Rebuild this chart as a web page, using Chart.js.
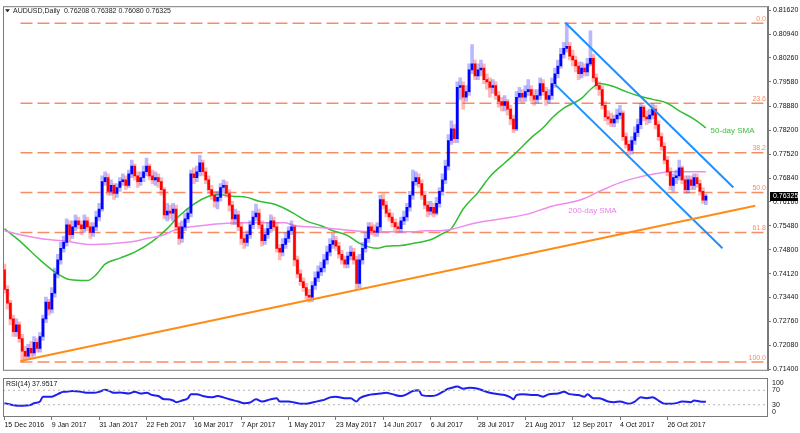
<!DOCTYPE html>
<html lang="en">
<head>
<meta charset="UTF-8">
<title>AUDUSD Daily</title>
<style>
  body { margin: 0; background: #fff; }
  #wrap { position: relative; width: 800px; height: 433px; }
  #priceChart { position: absolute; left: 0; top: 0; }
  #rsiChart { position: absolute; left: 0; top: 375px; }
</style>
<script src="https://cdn.jsdelivr.net/npm/chart.js"></script>
</head>
<body>
<div id="wrap">
  <canvas id="priceChart" width="800" height="377"></canvas>
  <canvas id="rsiChart" width="800" height="58"></canvas>
</div>
<script>
// ---- data ----
const dateLabels = ['15 Dec 2016', '9 Jan 2017', '31 Jan 2017', '22 Feb 2017', '16 Mar 2017', '7 Apr 2017', '1 May 2017',
  '23 May 2017', '14 Jun 2017', '6 Jul 2017', '28 Jul 2017', '21 Aug 2017', '12 Sep 2017', '4 Oct 2017', '26 Oct 2017'];
const dateLabelBars = [0, 16, 32, 48, 64, 80, 96, 112, 128, 144, 160, 176, 192, 208, 224];

const priceTicks = [0.71400, 0.72080, 0.72760, 0.73440, 0.74120, 0.74800, 0.75480, 0.76160,
  0.76840, 0.77520, 0.78200, 0.78880, 0.79580, 0.80260, 0.80940, 0.81620];

// daily candles (open of a bar = close of the bar before)
const firstOpen = 0.7423;
const closes = [
  0.7367, 0.7328, 0.7283, 0.7247, 0.7266, 0.7227, 0.7191, 0.7177, 0.7199, 0.7186,
  0.7216, 0.7199, 0.7233, 0.7283, 0.7331, 0.7311, 0.7356, 0.7411, 0.7451, 0.7484,
  0.7501, 0.7551, 0.7523, 0.7545, 0.7562, 0.7551, 0.7540, 0.7562, 0.7545, 0.7529,
  0.7545, 0.7573, 0.7596, 0.7674, 0.7685, 0.7646, 0.7663, 0.7640, 0.7657, 0.7674,
  0.7679, 0.7663, 0.7696, 0.7718, 0.7690, 0.7674, 0.7685, 0.7702, 0.7718, 0.7690,
  0.7679, 0.7685, 0.7674, 0.7651, 0.7579, 0.7590, 0.7584, 0.7596, 0.7545, 0.7512,
  0.7545, 0.7568, 0.7584, 0.7696, 0.7685, 0.7702, 0.7727, 0.7702, 0.7679, 0.7651,
  0.7635, 0.7618, 0.7629, 0.7657, 0.7663, 0.7640, 0.7607, 0.7568, 0.7579, 0.7545,
  0.7512, 0.7501, 0.7523, 0.7551, 0.7573, 0.7584, 0.7551, 0.7506, 0.7523, 0.7540,
  0.7562, 0.7545, 0.7484, 0.7473, 0.7495, 0.7512, 0.7534, 0.7545, 0.7451, 0.7411,
  0.7389, 0.7372, 0.7350, 0.7345, 0.7378, 0.7400, 0.7417, 0.7428, 0.7451, 0.7473,
  0.7495, 0.7506, 0.7490, 0.7467, 0.7451, 0.7439, 0.7462, 0.7473, 0.7451, 0.7384,
  0.7451, 0.7484, 0.7512, 0.7545, 0.7534, 0.7529, 0.7545, 0.7623, 0.7607, 0.7584,
  0.7573, 0.7557, 0.7545, 0.7540, 0.7562, 0.7573, 0.7601, 0.7635, 0.7674, 0.7685,
  0.7668, 0.7635, 0.7607, 0.7590, 0.7601, 0.7584, 0.7612, 0.7646, 0.7679, 0.7718,
  0.7791, 0.7824, 0.7796, 0.7942, 0.7947, 0.7914, 0.7930, 0.7992, 0.8009, 0.7975,
  0.7992, 0.7997, 0.7964, 0.7958, 0.7942, 0.7947, 0.7919, 0.7902, 0.7891, 0.7902,
  0.7880, 0.7852, 0.7824, 0.7914, 0.7925, 0.7914, 0.7930, 0.7936, 0.7919, 0.7908,
  0.7919, 0.7953, 0.7930, 0.7908, 0.7919, 0.7953, 0.7981, 0.8003, 0.8036, 0.8053,
  0.8059, 0.8031, 0.8020, 0.8003, 0.7981, 0.7997, 0.7986, 0.8009, 0.8025, 0.7969,
  0.7947, 0.7936, 0.7891, 0.7858, 0.7852, 0.7841, 0.7852, 0.7863, 0.7869, 0.7802,
  0.7780, 0.7763, 0.7791, 0.7813, 0.7836, 0.7886, 0.7858, 0.7852, 0.7863, 0.7880,
  0.7836, 0.7802, 0.7774, 0.7735, 0.7702, 0.7663, 0.7685, 0.7690, 0.7713, 0.7679,
  0.7651, 0.7679, 0.7663, 0.7685, 0.7668, 0.7646, 0.7621, 0.76325
];
const highs = [
  0.7439, 0.7378, 0.7336, 0.7294, 0.7283, 0.7275, 0.7239, 0.7205, 0.7211, 0.7219,
  0.7233, 0.7227, 0.7244, 0.7294, 0.7345, 0.7339, 0.7372, 0.7428, 0.7467, 0.7501,
  0.7518, 0.7568, 0.7562, 0.7562, 0.7579, 0.7573, 0.7562, 0.7579, 0.7573, 0.7557,
  0.7557, 0.7590, 0.7612, 0.7690, 0.7702, 0.7696, 0.7679, 0.7668, 0.7668, 0.7685,
  0.7696, 0.7690, 0.7707, 0.7735, 0.7724, 0.7702, 0.7702, 0.7718, 0.7741, 0.7724,
  0.7707, 0.7702, 0.7696, 0.7685, 0.7657, 0.7612, 0.7607, 0.7612, 0.7607, 0.7557,
  0.7562, 0.7584, 0.7596, 0.7707, 0.7713, 0.7718, 0.7749, 0.7735, 0.7713, 0.7690,
  0.7663, 0.7646, 0.7646, 0.7668, 0.7679, 0.7674, 0.7651, 0.7618, 0.7596, 0.7590,
  0.7557, 0.7523, 0.7534, 0.7562, 0.7590, 0.7610, 0.7596, 0.7562, 0.7540, 0.7557,
  0.7579, 0.7573, 0.7557, 0.7495, 0.7512, 0.7529, 0.7545, 0.7562, 0.7551, 0.7462,
  0.7423, 0.7400, 0.7384, 0.7367, 0.7389, 0.7417, 0.7434, 0.7445, 0.7467, 0.7490,
  0.7512, 0.7526, 0.7518, 0.7501, 0.7478, 0.7462, 0.7473, 0.7490, 0.7484, 0.7462,
  0.7467, 0.7501, 0.7529, 0.7557, 0.7557, 0.7551, 0.7557, 0.7635, 0.7640, 0.7618,
  0.7596, 0.7584, 0.7568, 0.7557, 0.7573, 0.7590, 0.7612, 0.7646, 0.7707, 0.7702,
  0.7696, 0.7679, 0.7646, 0.7618, 0.7618, 0.7612, 0.7629, 0.7657, 0.7696, 0.7735,
  0.7808, 0.7847, 0.7836, 0.7958, 0.7969, 0.7958, 0.7947, 0.8009, 0.8064, 0.8020,
  0.8009, 0.8020, 0.8009, 0.7981, 0.7969, 0.7964, 0.7958, 0.7930, 0.7914, 0.7919,
  0.7908, 0.7891, 0.7863, 0.7930, 0.7942, 0.7936, 0.7947, 0.7964, 0.7947, 0.7936,
  0.7936, 0.7969, 0.7964, 0.7942, 0.7936, 0.7969, 0.7997, 0.8020, 0.8053, 0.8070,
  0.8126, 0.8070, 0.8048, 0.8031, 0.8014, 0.8014, 0.8009, 0.8025, 0.8103, 0.8036,
  0.7981, 0.7958, 0.7947, 0.7902, 0.7875, 0.7869, 0.7863, 0.7880, 0.7891, 0.7875,
  0.7813, 0.7791, 0.7802, 0.7830, 0.7852, 0.7897, 0.7891, 0.7875, 0.7880, 0.7897,
  0.7891, 0.7847, 0.7813, 0.7785, 0.7746, 0.7713, 0.7696, 0.7707, 0.7735, 0.7718,
  0.7690, 0.7690, 0.7690, 0.7696, 0.7696, 0.7679, 0.7657, 0.76382
];
const lows = [
  0.7356, 0.7311, 0.7266, 0.7233, 0.7233, 0.7216, 0.7160, 0.7166, 0.7172, 0.7172,
  0.7177, 0.7188, 0.7188, 0.7222, 0.7272, 0.7294, 0.7300, 0.7345, 0.7400, 0.7439,
  0.7473, 0.7490, 0.7506, 0.7512, 0.7534, 0.7540, 0.7523, 0.7529, 0.7534, 0.7512,
  0.7518, 0.7534, 0.7562, 0.7590, 0.7663, 0.7635, 0.7635, 0.7623, 0.7629, 0.7646,
  0.7663, 0.7651, 0.7657, 0.7685, 0.7679, 0.7657, 0.7663, 0.7674, 0.7690, 0.7679,
  0.7668, 0.7663, 0.7657, 0.7635, 0.7568, 0.7562, 0.7568, 0.7562, 0.7534, 0.7495,
  0.7501, 0.7534, 0.7557, 0.7573, 0.7668, 0.7674, 0.7690, 0.7690, 0.7668, 0.7640,
  0.7623, 0.7601, 0.7596, 0.7618, 0.7640, 0.7629, 0.7590, 0.7551, 0.7551, 0.7534,
  0.7495, 0.7484, 0.7490, 0.7512, 0.7540, 0.7562, 0.7540, 0.7490, 0.7495, 0.7512,
  0.7529, 0.7534, 0.7473, 0.7451, 0.7462, 0.7484, 0.7501, 0.7523, 0.7434, 0.7400,
  0.7378, 0.7361, 0.7339, 0.7331, 0.7333, 0.7367, 0.7389, 0.7406, 0.7417, 0.7439,
  0.7462, 0.7484, 0.7478, 0.7456, 0.7439, 0.7428, 0.7428, 0.7451, 0.7439, 0.7367,
  0.7372, 0.7439, 0.7473, 0.7501, 0.7523, 0.7518, 0.7518, 0.7534, 0.7596, 0.7573,
  0.7562, 0.7545, 0.7534, 0.7529, 0.7529, 0.7551, 0.7562, 0.7590, 0.7623, 0.7663,
  0.7657, 0.7623, 0.7596, 0.7573, 0.7579, 0.7573, 0.7579, 0.7601, 0.7635, 0.7668,
  0.7707, 0.7780, 0.7785, 0.7785, 0.7908, 0.7880, 0.7902, 0.7919, 0.7981, 0.7964,
  0.7964, 0.7975, 0.7953, 0.7936, 0.7914, 0.7925, 0.7908, 0.7886, 0.7875, 0.7875,
  0.7863, 0.7836, 0.7813, 0.7819, 0.7902, 0.7897, 0.7902, 0.7919, 0.7902, 0.7891,
  0.7897, 0.7908, 0.7919, 0.7891, 0.7897, 0.7908, 0.7942, 0.7969, 0.7997, 0.8025,
  0.8042, 0.8020, 0.8003, 0.7986, 0.7964, 0.7969, 0.7975, 0.7975, 0.8003, 0.7958,
  0.7936, 0.7919, 0.7880, 0.7847, 0.7836, 0.7830, 0.7830, 0.7841, 0.7852, 0.7791,
  0.7769, 0.7749, 0.7752, 0.7780, 0.7802, 0.7824, 0.7847, 0.7836, 0.7841, 0.7852,
  0.7824, 0.7791, 0.7763, 0.7724, 0.7690, 0.7651, 0.7646, 0.7668, 0.7679, 0.7668,
  0.7640, 0.7640, 0.7651, 0.7651, 0.7657, 0.7635, 0.7612, 0.76080
];

// moving averages, sampled along the drawn curves (bar index -> price)
const sma50Bars = [0, 5, 12, 17, 22, 28, 31, 34, 39, 44, 50, 55, 59, 64, 69, 72, 77, 82, 86, 91,
  95, 98, 102, 107, 111, 116, 120, 126, 129, 134, 138, 142, 145, 148, 151, 155, 160, 164, 169, 173,
  178, 182, 185, 189, 195, 198, 201, 206, 210, 215, 219, 224, 228, 233, 237];
const sma50Values = [0.7540, 0.7506, 0.7451, 0.7417, 0.7395, 0.7392, 0.7409, 0.7439, 0.7456, 0.7473,
  0.7504, 0.7540, 0.7576, 0.7610, 0.7632, 0.7637, 0.7632, 0.7629, 0.7618, 0.7610,
  0.7596, 0.7582, 0.7562, 0.7548, 0.7534, 0.7520, 0.7498, 0.7484, 0.7490, 0.7492,
  0.7498, 0.7504, 0.7512, 0.7526, 0.7540, 0.7596, 0.7643, 0.7688, 0.7727, 0.7757,
  0.7799, 0.7827, 0.7855, 0.7883, 0.7911, 0.7936, 0.7953, 0.7944, 0.7930, 0.7916,
  0.7908, 0.7897, 0.7875, 0.7852, 0.7827];
const sma200Bars = [0, 5, 12, 21, 29, 37, 44, 48, 53, 59, 66, 73, 80, 86, 95, 98, 104, 111, 118, 125,
  131, 138, 142, 147, 152, 158, 168, 177, 185, 195, 201, 208, 215, 222, 226, 231, 237];
const sma200Values = [0.7534, 0.7523, 0.7512, 0.7504, 0.7495, 0.7498, 0.7504, 0.7512, 0.7520, 0.7540,
  0.7548, 0.7554, 0.7557, 0.7557, 0.7557, 0.7548, 0.7545, 0.7540, 0.7534, 0.7531,
  0.7531, 0.7531, 0.7534, 0.7534, 0.7540, 0.7554, 0.7568, 0.7582, 0.7604, 0.7623,
  0.7646, 0.7671, 0.7688, 0.7699, 0.7702, 0.7702, 0.7702];

// drawn trend lines (bar index, price at each end)
const supportBars = [5.4, 253.7];
const supportPrices = [0.7163, 0.7605];
const channelTopBars = [189.5, 246.3];
const channelTopPrices = [0.8126, 0.7657];
const channelBottomBars = [186.1, 242.6];
const channelBottomPrices = [0.7950, 0.7484];

// Fibonacci retracement of the Dec-2016 low to the Sep-2017 high
const fibLevels = [0.8125, 0.7897, 0.7756, 0.7643, 0.7529, 0.7160];
const fibNames = ['0.0', '23.6', '38.2', '50.0', '61.8', '100.0'];
const fibStartBar = 5.4;

const smaLabels = ['50-day SMA', '200-day SMA'];
const smaLabelBars = [238.6, 190.5];
const smaLabelPrices = [0.7819, 0.7590];

const titleText = 'AUDUSD,Daily  0.76208 0.76382 0.76080 0.76325';
const lastPrice = 0.76325;

// RSI(14)
const rsiBars = [0, 5, 9, 10, 12, 13, 16, 18, 20, 21, 23, 26, 28, 30, 32, 34, 36, 37, 39, 42,
  44, 46, 48, 50, 52, 54, 55, 57, 58, 60, 62, 63, 65, 67, 70, 72, 74, 76, 79, 81,
  83, 85, 87, 90, 92, 93, 96, 98, 100, 102, 104, 107, 108, 110, 112, 115, 117, 119, 120, 123,
  125, 127, 129, 131, 134, 136, 138, 140, 141, 144, 146, 148, 150, 152, 153, 155, 157, 160, 162, 164,
  167, 169, 171, 172, 173, 175, 178, 180, 182, 184, 187, 189, 191, 194, 196, 197, 199, 201, 204, 206,
  208, 211, 213, 215, 217, 219, 221, 223, 225, 227, 229, 232, 233, 235, 237];
const rsiValues = [34.4, 27.3, 30, 34.4, 38.9, 52.2, 52.2, 59.3, 65.6, 65.6, 68.2, 65.6, 62.9, 62.9, 65.6, 71.8, 65.6, 62.9, 63.8, 61.1,
  65.6, 61.1, 62.9, 56.7, 54, 45.1, 45.1, 41.6, 37.1, 41.6, 47.8, 59.3, 59.3, 54, 50.4, 54, 50.4, 45.1, 38.9, 34.4,
  36.2, 45.1, 38.9, 45.1, 47.8, 38.9, 38.9, 36.2, 32.7, 32.7, 36.2, 41.6, 43.3, 50.4, 52.2, 47.8, 47.8, 38.9, 47.8, 56.7,
  59.3, 61.1, 62.9, 59.3, 54, 59.3, 68.2, 70, 56.7, 54, 56.7, 65.6, 74.4, 78.9, 80.7, 74.4, 77.1, 74.4, 68.2, 62.9,
  59.3, 56.7, 50.4, 45.1, 56.7, 59.3, 56.7, 56.7, 52.2, 59.3, 61.1, 65.6, 59.3, 56.7, 52.2, 59.3, 47.8, 47.8, 38.9, 37.1,
  38.9, 32.7, 38.9, 50.4, 47.8, 50.4, 41.6, 32.7, 32.7, 34.4, 38.9, 37.1, 41.6, 38.9, 37.95];
const rsiLevels = [70, 30];
const rsiAxisLabels = [100, 70, 30, 0];
const rsiTitle = 'RSI(14) 37.9517';

// ---- styling ----
const FONT = '"Liberation Sans", Arial, sans-serif';
const upColor = 'rgb(0,0,255)';
const downColor = 'rgb(255,0,0)';
const upWick = 'rgba(70,70,255,0.38)';
const downWick = 'rgba(255,70,70,0.38)';
const fibColor = 'rgb(250,140,100)';
const frameColor = '#7a7a7a';
const X_MIN = -0.5, X_MAX = 258;

Chart.defaults.font.family = FONT;
Chart.defaults.font.size = 7;
Chart.defaults.color = '#000';

const candles = closes.map((c, i) => ({ o: i === 0 ? firstOpen : closes[i - 1], h: highs[i], l: lows[i], c }));

function lineSet(xs, ys, color, width, extra) {
  return Object.assign({
    type: 'line',
    data: xs.map((x, i) => ({ x, y: ys[i] })),
    borderColor: color,
    borderWidth: width,
    pointRadius: 0,
    fill: false
  }, extra || {});
}

const fibSets = fibLevels.map(lv => lineSet([fibStartBar, X_MAX], [lv, lv], fibColor, 1.5, { borderDash: [12, 5], order: 6 }));

function frame(chart) {
  const a = chart.chartArea, ctx = chart.ctx;
  ctx.save();
  ctx.strokeStyle = frameColor;
  ctx.lineWidth = 1;
  ctx.strokeRect(a.left + 0.5, a.top + 0.5, a.right - a.left - 1, a.bottom - a.top - 1);
  ctx.restore();
}

const priceDecor = {
  id: 'priceDecor',
  afterDatasetsDraw(chart) {
    const { ctx, chartArea: a, scales: { x, y } } = chart;
    ctx.save();
    ctx.font = '7px ' + FONT;
    ctx.fillStyle = fibColor;
    ctx.textAlign = 'right';
    ctx.textBaseline = 'bottom';
    fibLevels.forEach((lv, i) => ctx.fillText(fibNames[i], a.right - 2, y.getPixelForValue(lv) - 1));

    ctx.font = '8px ' + FONT;
    ctx.textAlign = 'left';
    ctx.textBaseline = 'middle';
    const smaColors = ['rgb(60,190,60)', 'rgb(232,130,232)'];
    smaLabels.forEach((t, i) => {
      ctx.fillStyle = smaColors[i];
      ctx.fillText(t, x.getPixelForValue(smaLabelBars[i]), y.getPixelForValue(smaLabelPrices[i]));
    });
    ctx.restore();
  },
  afterDraw(chart) {
    const { ctx, chartArea: a, scales: { y } } = chart;
    frame(chart);
    ctx.save();
    // title with the little triangle
    ctx.fillStyle = '#222';
    ctx.beginPath();
    ctx.moveTo(a.left + 2, a.top + 3);
    ctx.lineTo(a.left + 7, a.top + 3);
    ctx.lineTo(a.left + 4.5, a.top + 6);
    ctx.closePath();
    ctx.fill();
    ctx.font = '7px ' + FONT;
    ctx.textAlign = 'left';
    ctx.textBaseline = 'middle';
    ctx.fillText(titleText, a.left + 10, a.top + 5);
    // last price marker on the axis
    const py = Math.round(y.getPixelForValue(lastPrice));
    ctx.fillStyle = '#000';
    ctx.fillRect(a.right + 2, py - 4, 28, 9);
    ctx.fillStyle = '#fff';
    ctx.fillText(lastPrice.toFixed(5), a.right + 5, py + 0.5);
    ctx.restore();
  }
};

new Chart(document.getElementById('priceChart'), {
  type: 'bar',
  data: {
    datasets: [
      ...fibSets,
      lineSet(sma200Bars, sma200Values, 'rgb(238,140,238)', 1.5, { cubicInterpolationMode: 'monotone', order: 5 }),
      lineSet(sma50Bars, sma50Values, 'rgb(50,190,50)', 1.5, { cubicInterpolationMode: 'monotone', order: 5 }),
      {
        type: 'bar',
        data: candles.map((b, i) => ({ x: i, y: [b.l, b.h] })),
        backgroundColor: candles.map(b => b.c >= b.o ? upWick : downWick),
        barThickness: 3,
        grouped: false,
        order: 4
      },
      {
        type: 'bar',
        data: candles.map((b, i) => ({ x: i, y: [b.o, b.c] })),
        backgroundColor: candles.map(b => b.c >= b.o ? upColor : downColor),
        barThickness: 2,
        minBarLength: 1,
        grouped: false,
        order: 3
      },
      lineSet(supportBars, supportPrices, 'rgb(255,140,20)', 2, { order: 1 }),
      lineSet(channelTopBars, channelTopPrices, 'rgb(30,144,255)', 2, { order: 1 }),
      lineSet(channelBottomBars, channelBottomPrices, 'rgb(30,144,255)', 2, { order: 1 })
    ]
  },
  options: {
    responsive: false,
    animation: false,
    devicePixelRatio: 1,
    layout: { padding: { left: 3, top: 3, right: 0, bottom: 2 } },
    plugins: { legend: { display: false }, tooltip: { enabled: false } },
    scales: {
      x: { type: 'linear', min: X_MIN, max: X_MAX, offset: false, display: false },
      y: {
        position: 'right',
        min: 0.71353,
        max: 0.81732,
        afterBuildTicks: s => { s.ticks = priceTicks.map(v => ({ value: v })); },
        afterFit: s => { s.width = 32; },
        ticks: { padding: 2, callback: v => v.toFixed(5), font: { size: 7 }, color: '#111' },
        grid: { drawOnChartArea: false, drawTicks: true, tickLength: 3, color: frameColor },
        border: { display: true, color: frameColor }
      }
    }
  },
  plugins: [priceDecor]
});

const rsiDecor = {
  id: 'rsiDecor',
  afterDraw(chart) {
    const { ctx, chartArea: a, scales: { y } } = chart;
    frame(chart);
    ctx.save();
    ctx.font = '7px ' + FONT;
    ctx.fillStyle = '#111';
    ctx.textAlign = 'left';
    ctx.textBaseline = 'middle';
    ctx.fillText(rsiTitle, a.left + 3, a.top + 6);
    rsiAxisLabels.forEach(v => {
      const py = Math.min(Math.max(y.getPixelForValue(v), a.top + 5), a.bottom - 5);
      ctx.fillText(String(v), a.right + 4, py);
    });
    ctx.restore();
  }
};

new Chart(document.getElementById('rsiChart'), {
  type: 'line',
  data: {
    datasets: [
      ...rsiLevels.map(lv => lineSet([X_MIN, X_MAX], [lv, lv], '#b4b4b4', 1, { borderDash: [2, 3] })),
      lineSet(rsiBars, rsiValues, 'rgb(30,30,240)', 2, { cubicInterpolationMode: 'monotone' })
    ]
  },
  options: {
    responsive: false,
    animation: false,
    devicePixelRatio: 1,
    layout: { padding: { left: 3, top: 3, right: 0, bottom: 0 } },
    plugins: { legend: { display: false }, tooltip: { enabled: false } },
    scales: {
      x: {
        type: 'linear',
        min: X_MIN,
        max: X_MAX,
        afterBuildTicks: s => { s.ticks = dateLabelBars.map(v => ({ value: v })); },
        afterFit: s => { s.height = 16; },
        ticks: {
          autoSkip: false,
          maxRotation: 0,
          align: 'start',
          padding: 1,
          font: { size: 7 },
          color: '#111',
          callback: v => dateLabels[dateLabelBars.indexOf(v)]
        },
        grid: { drawOnChartArea: false, drawTicks: true, tickLength: 3, color: frameColor },
        border: { display: false }
      },
      y: {
        position: 'right',
        min: -4,
        max: 104,
        afterFit: s => { s.width = 32; },
        ticks: { display: false },
        grid: { display: false },
        border: { display: false }
      }
    }
  },
  plugins: [rsiDecor]
});
</script>
</body>
</html>
